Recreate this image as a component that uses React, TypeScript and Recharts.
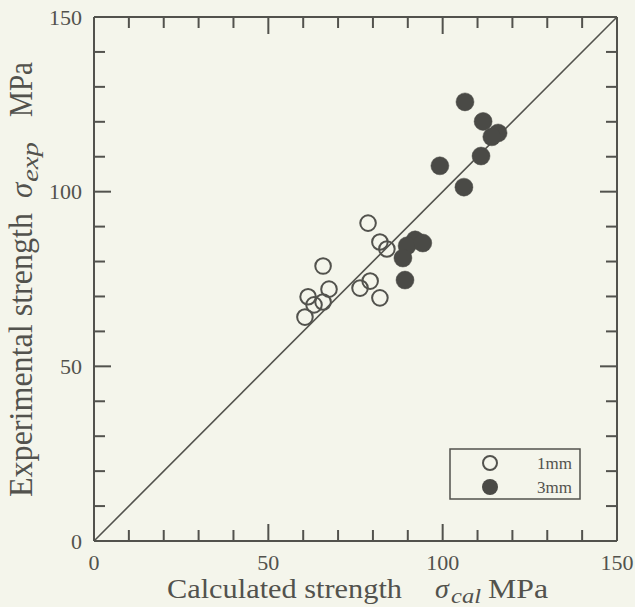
import React from "react";
import { ScatterChart, Scatter, XAxis, YAxis, Legend, Customized } from "recharts";

const xTicks = [0, 10, 20, 30, 40, 50, 60, 70, 80, 90, 100, 110, 120, 130, 140, 150];
const yTicks = [0, 10, 20, 30, 40, 50, 60, 70, 80, 90, 100, 110, 120, 130, 140, 150];
const labeledTicks = [0, 50, 100, 150];
const majorTicks = [50, 100];

const cal1mm = [60.5, 61.4, 63.1, 65.7, 67.4, 65.7, 76.3, 79.2, 78.6, 82.0, 84.0, 82.0];
const exp1mm = [64.1, 69.9, 67.6, 68.4, 72.1, 78.7, 72.4, 74.4, 91.0, 85.6, 83.6, 69.6];
const cal3mm = [106.4, 111.6, 115.9, 114.1, 111.0, 99.2, 106.1, 92.1, 89.8, 88.6, 89.2, 94.3];
const exp3mm = [125.7, 120.1, 116.8, 115.7, 110.2, 107.4, 101.3, 86.2, 84.5, 81.0, 74.7, 85.3];
const diagX = [0, 150];
const diagY = [0, 150];

const data1mm = cal1mm.map((x, i) => ({ x, y: exp1mm[i] }));
const data3mm = cal3mm.map((x, i) => ({ x, y: exp3mm[i] }));
const diag = diagX.map((x, i) => ({ x, y: diagY[i] }));

const INK = "#52524d";
const FILL = "#4a4a46";
const BG = "#f4f5eb";
const FONT = "'Liberation Serif', serif";

const tickLen = (v: number) => (majorTicks.includes(v) ? 17 : v === 0 || v === 150 ? 0 : 11);

const BottomTick = (p: any) => {
  const v = p.payload.value;
  const len = tickLen(v);
  return (
    <g>
      {len > 0 && <line x1={p.x} x2={p.x} y1={p.y} y2={p.y - len} stroke={INK} strokeWidth={2} />}
      {labeledTicks.includes(v) && (
        <text x={p.x} y={p.y + 29} textAnchor="middle" fontFamily={FONT} fontSize={22} fill={INK}>
          {v}
        </text>
      )}
    </g>
  );
};
const TopTick = (p: any) => {
  const len = tickLen(p.payload.value);
  return len > 0 ? <line x1={p.x} x2={p.x} y1={p.y} y2={p.y + len} stroke={INK} strokeWidth={2} /> : <g />;
};
const LeftTick = (p: any) => {
  const v = p.payload.value;
  const len = tickLen(v);
  return (
    <g>
      {len > 0 && <line x1={p.x} x2={p.x + len} y1={p.y} y2={p.y} stroke={INK} strokeWidth={2} />}
      {labeledTicks.includes(v) && (
        <text x={p.x - 12} y={p.y + 7.5} textAnchor="end" fontFamily={FONT} fontSize={22} fill={INK}>
          {v}
        </text>
      )}
    </g>
  );
};
const RightTick = (p: any) => {
  const len = tickLen(p.payload.value);
  return len > 0 ? <line x1={p.x} x2={p.x - len} y1={p.y} y2={p.y} stroke={INK} strokeWidth={2} /> : <g />;
};

const OpenDot = (p: any) => <circle cx={p.cx} cy={p.cy} r={7.8} fill="none" stroke={INK} strokeWidth={2} />;
const FilledDot = (p: any) => <circle cx={p.cx} cy={p.cy} r={9} fill={FILL} stroke={FILL} strokeWidth={0.5} />;
const NoDot = () => <g />;

const Titles = () => (
  <g fill={INK} fontFamily={FONT}>
    <text x={167} y={598} fontSize={28} textLength={235} lengthAdjust="spacingAndGlyphs">
      Calculated strength
    </text>
    <text x={435} y={598} fontSize={28} fontStyle="italic">σ</text>
    <text x={451} y={603} fontSize={20} fontStyle="italic" textLength={30} lengthAdjust="spacingAndGlyphs">
      cal
    </text>
    <text x={488} y={598} fontSize={28} textLength={60} lengthAdjust="spacingAndGlyphs">
      MPa
    </text>
    <g transform="translate(32,0) rotate(-90)">
      <text x={-497} y={0} fontSize={33} textLength={284} lengthAdjust="spacingAndGlyphs">
        Experimental strength
      </text>
      <text x={-198} y={0} fontSize={31} fontStyle="italic">σ</text>
      <text x={-182} y={6} fontSize={23} fontStyle="italic" textLength={40} lengthAdjust="spacingAndGlyphs">
        exp
      </text>
      <text x={-117} y={0} fontSize={33} textLength={55} lengthAdjust="spacingAndGlyphs">
        MPa
      </text>
    </g>
  </g>
);

const LegendBox = (props: any) => {
  const items = (props.payload || []).filter((e: any) => e.value === "1mm" || e.value === "3mm");
  return (
    <svg width={132} height={52} style={{ display: "block" }}>
      <rect x={1} y={1} width={130} height={50} fill={BG} stroke={INK} strokeWidth={1.5} />
      {items.map((e: any, i: number) => {
        const cy = 15 + i * 24;
        return (
          <g key={e.value}>
            {e.value === "1mm" ? (
              <circle cx={41} cy={cy} r={7} fill="none" stroke={INK} strokeWidth={2} />
            ) : (
              <circle cx={41} cy={cy} r={8} fill={FILL} />
            )}
            <text x={88} y={cy + 6} fontFamily={FONT} fontSize={17} fill={INK}>
              {e.value}
            </text>
          </g>
        );
      })}
    </svg>
  );
};

export default function App() {
  return (
    <div style={{ position: "absolute", left: 0, top: 0, width: 635, height: 607, background: BG }}>
      <ScatterChart width={635} height={607} margin={{ top: 16, right: 17, bottom: 65, left: 93 }}>
        <XAxis xAxisId="b" type="number" dataKey="x" domain={[0, 150]} ticks={xTicks} interval={0}
          height={1} tickSize={0} tickMargin={0} tickLine={false}
          axisLine={{ stroke: INK, strokeWidth: 2 }} tick={(p: any) => <BottomTick {...p} />} />
        <XAxis xAxisId="t" orientation="top" type="number" dataKey="x" domain={[0, 150]} ticks={xTicks} interval={0}
          height={1} tickSize={0} tickMargin={0} tickLine={false}
          axisLine={{ stroke: INK, strokeWidth: 2 }} tick={(p: any) => <TopTick {...p} />} />
        <YAxis yAxisId="l" type="number" dataKey="y" domain={[0, 150]} ticks={yTicks} interval={0}
          width={1} tickSize={0} tickMargin={0} tickLine={false}
          axisLine={{ stroke: INK, strokeWidth: 2 }} tick={(p: any) => <LeftTick {...p} />} />
        <YAxis yAxisId="r" orientation="right" type="number" dataKey="y" domain={[0, 150]} ticks={yTicks} interval={0}
          width={1} tickSize={0} tickMargin={0} tickLine={false}
          axisLine={{ stroke: INK, strokeWidth: 2 }} tick={(p: any) => <RightTick {...p} />} />
        <Scatter name="diag" data={diag} xAxisId="t" yAxisId="r" line={{ stroke: INK, strokeWidth: 1.6 }}
          shape={NoDot} legendType="none" isAnimationActive={false} />
        <Scatter name="1mm" data={data1mm} xAxisId="b" yAxisId="l" shape={OpenDot} fill={INK} isAnimationActive={false} />
        <Scatter name="3mm" data={data3mm} xAxisId="b" yAxisId="l" shape={FilledDot} fill={FILL} isAnimationActive={false} />
        <Legend layout="vertical" align="center" verticalAlign="middle" content={LegendBox}
          wrapperStyle={{ position: "absolute", left: 449, top: 448, width: 132, height: 52, margin: 0 }} />
        <Customized component={Titles} />
      </ScatterChart>
    </div>
  );
}
